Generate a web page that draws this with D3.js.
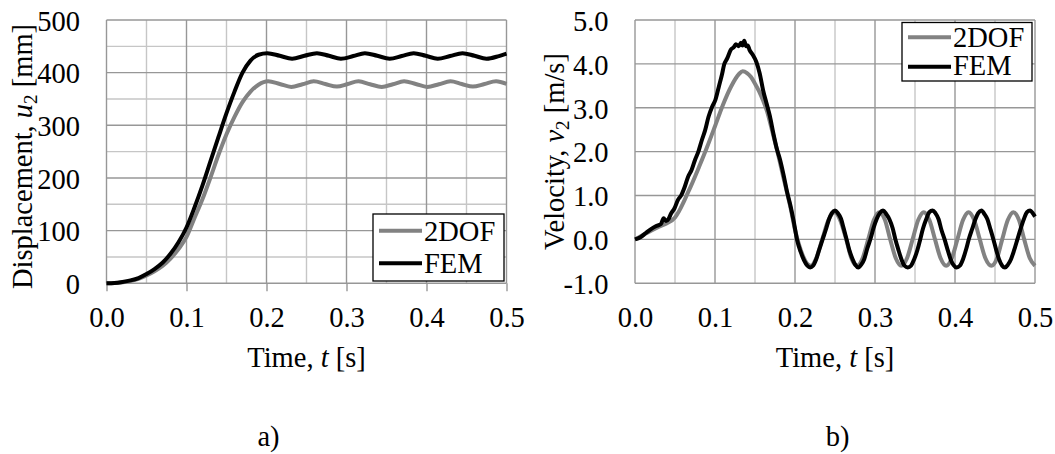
<!DOCTYPE html>
<html><head><meta charset="utf-8">
<script src="https://cdn.jsdelivr.net/npm/d3@7"></script>
<style>
body{margin:0;background:#fff;}
svg{display:block;font-family:"Liberation Serif","Times New Roman",serif;}
</style></head><body>
<svg id="c" width="1055" height="454"></svg>
<script>
// ---------- data ----------
const seriesNames = ["2DOF", "FEM"];
const timeTicks = [0, 0.1, 0.2, 0.3, 0.4, 0.5];
const dispTicks = [0, 100, 200, 300, 400, 500];
const velTicks = [-1, 0, 1, 2, 3, 4, 5];

// a) displacement u2 [mm]
const dispTime2DOF = [0,0.01,0.02,0.03,0.04,0.05,0.06,0.07,0.08,0.09,0.10,0.11,0.12,0.13,0.14,0.15,0.16,0.17,0.18,0.19,
  0.202,0.2165,0.231,0.245,0.259,0.2735,0.288,0.3015,0.315,0.3295,0.344,0.358,0.372,0.3865,0.401,0.4155,0.430,0.444,0.458,0.4725,0.487,0.500];
const disp2DOF = [0,0.5,2,4.5,8.5,15,23,33,47,65,88,124,160,201,244,283,316,344,364,377,
  383.5,378.5,373,378,383.5,378.5,373.5,378.5,383.5,378,373,378,383.5,378.5,373,378,383.5,378.5,373.5,378.5,383.5,378.5];

const dispTimeFEM = [0,0.01,0.02,0.03,0.04,0.05,0.06,0.07,0.08,0.09,0.10,0.11,0.12,0.13,0.14,0.15,0.16,0.17,0.18,0.19,
  0.201,0.2165,0.232,0.2475,0.263,0.278,0.293,0.3085,0.323,0.3385,0.354,0.369,0.384,0.399,0.414,0.4295,0.445,0.460,0.475,0.4905,0.500];
const dispFEM = [0,0.5,2.5,5.5,10,17.5,27,39,56,78,106,144,186,232,278,323,364,400,423,434,
  437,432,426.5,432,437,432,426.5,431.5,437,432,426.5,431.5,437,432,426.5,431.5,437,432,426.5,431.5,436];

// b) velocity v2 [m/s]
const velTime2DOF = [0,0.01,0.02,0.03,0.04,0.05,0.055,0.06,0.065,0.07,0.08,0.09,0.10,0.11,0.12,0.13,0.1346,0.14,0.145,0.15,0.155,0.16,0.165,0.17,0.175,0.18,0.185,0.19,0.195,0.20,0.205,0.21,0.215,0.2195,
  0.2265,0.234,0.2418,0.2496,0.2565,0.264,0.2705,0.2775,0.2845,0.2915,0.2985,0.3055,0.3125,0.319,0.326,0.333,0.340,0.347,0.354,0.361,0.368,0.375,0.382,0.389,0.396,0.403,0.410,0.417,0.424,0.431,0.438,0.4455,0.4525,0.459,0.466,0.473,0.480,0.4865,0.4935,0.500];
const vel2DOF = [0,0.1,0.2,0.29,0.37,0.5,0.64,0.82,1.02,1.22,1.65,2.1,2.58,3.07,3.48,3.77,3.83,3.79,3.7,3.55,3.38,3.17,2.92,2.58,2.22,1.85,1.45,1.07,0.67,0.22,-0.12,-0.38,-0.55,-0.6,
  -0.43,0,0.44,0.62,0.44,0,-0.43,-0.6,-0.43,0,0.44,0.62,0.44,0,-0.43,-0.6,-0.43,0,0.44,0.62,0.44,0,-0.43,-0.6,-0.43,0,0.44,0.62,0.44,0,-0.43,-0.6,-0.43,0,0.44,0.62,0.44,0,-0.43,-0.6];

const velTimeFEM = [0,0.0068,0.0132,0.0196,0.026,0.0324,0.0358,0.0388,0.042,0.0451,0.0494,0.0537,0.0579,0.0622,0.0664,0.0707,0.075,0.0792,0.0835,0.0877,0.092,0.0963,0.1005,0.1048,0.109,0.1112,0.1154,0.1197,0.1239,0.126,0.1297,0.1325,0.1345,0.1365,0.139,0.141,0.1431,0.1474,0.1516,0.1559,0.1601,0.1644,0.1687,0.1729,0.1772,0.1814,0.1857,0.19,0.1942,0.1985,0.2027,0.207,0.2112,0.2155,0.2189,
  0.2225,0.2265,0.2305,0.2345,0.2385,0.2425,0.246,0.250,0.2535,0.2575,0.261,0.2645,0.268,0.272,0.2755,0.279,0.283,0.2865,0.2905,0.2945,0.298,0.302,0.306,0.310,0.314,0.318,0.322,0.3255,0.329,0.333,0.337,0.341,0.345,0.349,0.353,0.3565,0.360,0.364,0.368,0.372,0.3755,0.3795,0.383,0.387,0.391,0.3945,0.398,0.402,0.406,0.410,0.414,0.4175,0.4215,0.4255,0.429,0.433,0.437,0.4405,0.444,0.448,0.4515,0.455,0.459,0.4625,0.466,0.470,0.474,0.478,0.482,0.486,0.490,0.494,0.497,0.500];
const velFEM = [0,0.05,0.14,0.23,0.3,0.35,0.48,0.42,0.47,0.59,0.71,0.9,1.01,1.2,1.43,1.58,1.81,2.0,2.26,2.49,2.8,3.02,3.18,3.48,3.78,3.97,4.13,4.32,4.39,4.45,4.4,4.48,4.42,4.53,4.4,4.42,4.32,4.2,4.05,3.78,3.4,3.1,2.8,2.42,2.07,1.81,1.47,1.09,0.78,0.4,-0.02,-0.28,-0.47,-0.6,-0.64,
  -0.6,-0.45,-0.22,0,0.22,0.46,0.6,0.66,0.6,0.47,0.24,0,-0.25,-0.45,-0.58,-0.64,-0.57,-0.45,-0.2,0.02,0.25,0.46,0.6,0.66,0.58,0.46,0.26,0,-0.22,-0.45,-0.6,-0.64,-0.6,-0.45,-0.24,0,0.25,0.46,0.62,0.66,0.6,0.46,0.22,0,-0.25,-0.45,-0.58,-0.64,-0.6,-0.45,-0.22,0.02,0.24,0.46,0.6,0.66,0.57,0.46,0.25,0,-0.24,-0.45,-0.6,-0.64,-0.58,-0.45,-0.24,0,0.24,0.46,0.62,0.66,0.6,0.52];

// ---------- drawing ----------
const svg = d3.select("#c");
const FONT = 28.5;
const MAJOR = "#979797", MINOR = "#c6c6c6", GRIDW = 1.4;
const colors = {"2DOF": "#828282", "FEM": "#000000"};

function zip(ts, vs){ return ts.map((t,i)=>[t, vs[i]]); }

function panel(cfg){
  const g = svg.append("g");
  const x = d3.scaleLinear().domain([0, 0.5]).range(cfg.xr);
  const y = d3.scaleLinear().domain(cfg.yd).range([283.3, 20]);
  const xMajor = timeTicks;
  const xMinor = x.ticks(10).filter(t => !xMajor.some(m => Math.abs(m - t) < 1e-9));
  const yMajor = cfg.yTicks;
  const yMinor = cfg.yMinorStep ? d3.range(cfg.yd[0] + cfg.yMinorStep, cfg.yd[1], cfg.yMinorStep * 2) : [];

  const grid = g.append("g");
  grid.selectAll(".vmin").data(xMinor).join("line")
    .attr("x1", d => x(d)).attr("x2", d => x(d)).attr("y1", y(cfg.yd[0])).attr("y2", y(cfg.yd[1]))
    .attr("stroke", MINOR).attr("stroke-width", GRIDW);
  grid.selectAll(".hmin").data(yMinor).join("line")
    .attr("y1", d => y(d)).attr("y2", d => y(d)).attr("x1", cfg.xr[0]).attr("x2", cfg.xr[1])
    .attr("stroke", MINOR).attr("stroke-width", GRIDW);
  grid.selectAll(".hmaj").data(yMajor).join("line")
    .attr("y1", d => y(d)).attr("y2", d => y(d)).attr("x1", cfg.xr[0]).attr("x2", cfg.xr[1])
    .attr("stroke", MAJOR).attr("stroke-width", GRIDW);
  grid.selectAll(".vmaj").data(xMajor).join("line")
    .attr("x1", d => x(d)).attr("x2", d => x(d)).attr("y1", y(cfg.yd[0])).attr("y2", y(cfg.yd[1]))
    .attr("stroke", MAJOR).attr("stroke-width", GRIDW);

  // x axis
  const xa = g.append("g").attr("transform", `translate(0,${y(cfg.yd[0])})`)
    .call(d3.axisBottom(x).tickValues(timeTicks).tickSize(cfg.xTickSize).tickFormat(d => d.toFixed(1)));
  xa.select(".domain").remove();
  xa.selectAll(".tick line").attr("stroke", MAJOR).attr("stroke-width", GRIDW);
  xa.selectAll("text").attr("y", 43.7).attr("dy", null).attr("font-size", FONT)
    .attr("font-family", "Liberation Serif").attr("fill", "#000");

  // y axis
  const ya = g.append("g").attr("transform", `translate(${cfg.xr[0]},0)`)
    .call(d3.axisLeft(y).tickValues(yMajor).tickSize(0).tickPadding(26.5).tickFormat(cfg.yFmt));
  ya.select(".domain").remove();
  ya.selectAll("text").attr("dy", "0.36em").attr("font-size", FONT)
    .attr("font-family", "Liberation Serif").attr("fill", "#000");

  // lines
  const line = d3.line().x(d => x(d[0])).y(d => y(d[1])).curve(d3.curveMonotoneX);
  cfg.series.forEach(s => {
    g.append("path").datum(s.data).attr("d", line).attr("fill", "none")
      .attr("stroke", colors[s.name]).attr("stroke-width", 4).attr("stroke-linejoin", "round");
  });

  // x title
  const xt = g.append("text").attr("x", (cfg.xr[0] + cfg.xr[1]) / 2).attr("y", 367.3)
    .attr("text-anchor", "middle").attr("font-size", FONT);
  xt.append("tspan").text("Time, ");
  xt.append("tspan").attr("font-style", "italic").text("t");
  xt.append("tspan").text(" [s]");

  // y title
  const yt = g.append("text").attr("transform", `translate(${cfg.ytX},${cfg.ytY}) rotate(-90)`)
    .attr("text-anchor", "middle").attr("font-size", FONT);
  yt.append("tspan").text(cfg.ytPre);
  yt.append("tspan").attr("font-style", "italic").text(cfg.ytVar);
  yt.append("tspan").attr("font-size", 19).attr("dy", 5).text("2");
  yt.append("tspan").attr("dy", -5).text(cfg.ytPost);

  // legend
  const L = cfg.legend;
  const lg = g.append("g");
  lg.append("rect").attr("x", L.x).attr("y", L.y).attr("width", L.w).attr("height", L.h)
    .attr("fill", "#fff").attr("stroke", "#000").attr("stroke-width", 1.3);
  seriesNames.forEach((n, i) => {
    lg.append("line").attr("x1", L.lx0).attr("x2", L.lx1).attr("y1", L.rows[i]).attr("y2", L.rows[i])
      .attr("stroke", colors[n]).attr("stroke-width", 4);
    lg.append("text").attr("x", L.tx).attr("y", L.base[i]).attr("font-size", FONT).text(n);
  });

  // panel label
  g.append("text").attr("x", cfg.lab[0]).attr("y", cfg.lab[1]).attr("text-anchor", "middle")
    .attr("font-size", FONT).text(cfg.labText);
}

panel({
  xr: [106.5, 506.5], yd: [0, 500], yTicks: dispTicks, yMinorStep: 50, xTickSize: 8,
  yFmt: d => String(d),
  series: [{name: "2DOF", data: zip(dispTime2DOF, disp2DOF)}, {name: "FEM", data: zip(dispTimeFEM, dispFEM)}],
  ytX: 32, ytY: 156.5, ytPre: "Displacement, ", ytVar: "u", ytPost: " [mm]",
  legend: {x: 373, y: 214, w: 131, h: 67, lx0: 379, lx1: 422, rows: [230.7, 263.3], tx: 424, base: [240.7, 272.7]},
  lab: [268.5, 446], labText: "a)"
});

panel({
  xr: [635, 1035], yd: [-1, 5], yTicks: velTicks, yMinorStep: 0, xTickSize: 0,
  yFmt: d => d.toFixed(1),
  series: [{name: "2DOF", data: zip(velTime2DOF, vel2DOF)}, {name: "FEM", data: zip(velTimeFEM, velFEM)}],
  ytX: 563.5, ytY: 151.5, ytPre: "Velocity, ", ytVar: "v", ytPost: " [m/s]",
  legend: {x: 902, y: 22.5, w: 130, h: 58.5, lx0: 908, lx1: 951, rows: [37.3, 66.7], tx: 953, base: [46.7, 75]},
  lab: [837.5, 446], labText: "b)"
});
</script>
</body></html>
